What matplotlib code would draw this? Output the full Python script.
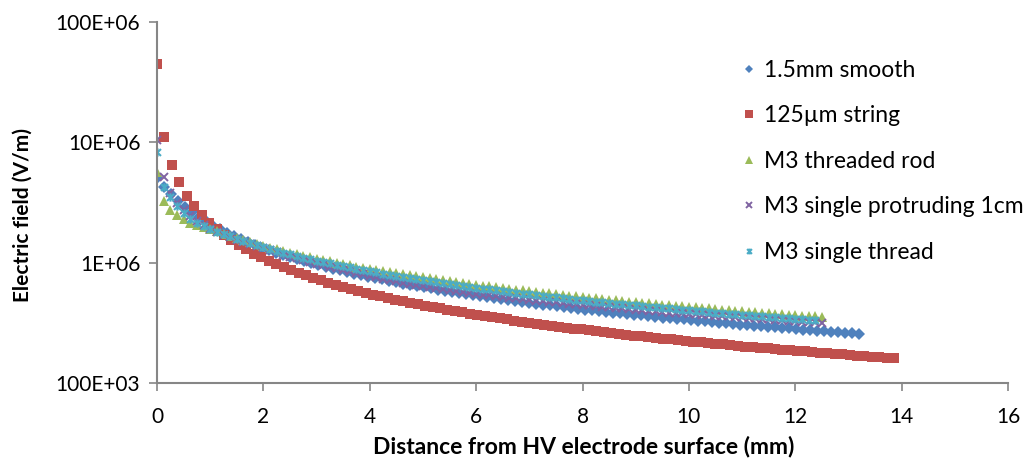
import numpy as np
import matplotlib
matplotlib.use("Agg")
import matplotlib.pyplot as plt
from matplotlib.path import Path

plt.rcParams['font.family'] = ['Lato', 'DejaVu Sans']

# sampling step along the distance axis (mm) for each series
BLUE_STEP = 0.132
RED_STEP = 0.14
GREEN_STEP = 0.125
PURPLE_STEP = 0.125
CYAN_STEP = 0.125

# electric field in MV/m
blue_mv = [5.10, 4.29, 3.70, 3.26, 2.91, 2.63, 2.39, 2.20, 2.03, 1.89,
           1.77, 1.66, 1.56, 1.48, 1.40, 1.33, 1.27, 1.21, 1.16, 1.11,
           1.07, 1.03, 0.991, 0.956, 0.923, 0.893, 0.864, 0.837, 0.812, 0.788,
           0.766, 0.745, 0.725, 0.706, 0.688, 0.671, 0.655, 0.639, 0.625, 0.610,
           0.597, 0.584, 0.572, 0.560, 0.549, 0.538, 0.527, 0.517, 0.507, 0.498,
           0.489, 0.480, 0.472, 0.464, 0.456, 0.449, 0.441, 0.434, 0.427, 0.421,
           0.414, 0.408, 0.402, 0.396, 0.390, 0.385, 0.379, 0.374, 0.369, 0.364,
           0.359, 0.354, 0.350, 0.345, 0.341, 0.337, 0.333, 0.329, 0.325, 0.321,
           0.317, 0.313, 0.310, 0.306, 0.303, 0.300, 0.296, 0.293, 0.290, 0.287,
           0.284, 0.281, 0.278, 0.275, 0.272, 0.270, 0.267, 0.264, 0.262, 0.259,
           0.257]

red_mv = [44.7, 11.1, 6.54, 4.64, 3.60, 2.94, 2.48, 2.15, 1.89, 1.69,
          1.53, 1.40, 1.29, 1.19, 1.11, 1.04, 0.973, 0.917, 0.867, 0.823,
          0.783, 0.746, 0.713, 0.682, 0.654, 0.629, 0.605, 0.583, 0.562, 0.543,
          0.526, 0.509, 0.493, 0.478, 0.464, 0.451, 0.439, 0.427, 0.416, 0.406,
          0.396, 0.386, 0.377, 0.368, 0.360, 0.352, 0.344, 0.337, 0.330, 0.324,
          0.317, 0.311, 0.305, 0.299, 0.294, 0.289, 0.283, 0.279, 0.274, 0.269,
          0.265, 0.260, 0.256, 0.252, 0.248, 0.244, 0.241, 0.237, 0.234, 0.230,
          0.227, 0.224, 0.221, 0.218, 0.215, 0.212, 0.209, 0.207, 0.204, 0.201,
          0.199, 0.196, 0.194, 0.192, 0.189, 0.187, 0.185, 0.183, 0.181, 0.179,
          0.177, 0.175, 0.173, 0.171, 0.169, 0.168, 0.166, 0.164, 0.162, 0.161]

green_mv = [5.62, 3.24, 2.75, 2.51, 2.29, 2.14, 2.04, 1.97, 1.905, 1.818,
            1.739, 1.666, 1.599, 1.538, 1.481, 1.428, 1.378, 1.332, 1.289, 1.249,
            1.211, 1.175, 1.142, 1.110, 1.080, 1.052, 1.025, 0.999, 0.975, 0.951,
            0.929, 0.908, 0.888, 0.869, 0.850, 0.832, 0.815, 0.799, 0.783, 0.768,
            0.754, 0.740, 0.726, 0.713, 0.701, 0.689, 0.677, 0.666, 0.655, 0.644,
            0.634, 0.624, 0.615, 0.605, 0.596, 0.587, 0.579, 0.571, 0.563, 0.555,
            0.547, 0.540, 0.533, 0.526, 0.519, 0.512, 0.506, 0.499, 0.493, 0.487,
            0.481, 0.475, 0.470, 0.464, 0.459, 0.454, 0.449, 0.444, 0.439, 0.434,
            0.429, 0.425, 0.420, 0.416, 0.412, 0.408, 0.403, 0.399, 0.395, 0.392,
            0.388, 0.384, 0.380, 0.377, 0.373, 0.370, 0.366, 0.363, 0.360, 0.357,
            0.353]

purple_mv = [10.5, 5.13, 3.80, 3.16, 2.75, 2.45, 2.24, 2.04, 1.91, 1.80,
             1.70, 1.62, 1.55, 1.488, 1.429, 1.373, 1.318, 1.266, 1.216, 1.168,
             1.122, 1.084, 1.047, 1.012, 0.977, 0.950, 0.923, 0.897, 0.871, 0.846,
             0.822, 0.799, 0.776, 0.757, 0.737, 0.718, 0.700, 0.684, 0.668, 0.653,
             0.638, 0.625, 0.613, 0.601, 0.589, 0.579, 0.569, 0.559, 0.550, 0.542,
             0.534, 0.526, 0.519, 0.512, 0.504, 0.497, 0.490, 0.484, 0.479, 0.473,
             0.468, 0.462, 0.457, 0.452, 0.447, 0.442, 0.437, 0.432, 0.427, 0.422,
             0.417, 0.412, 0.407, 0.403, 0.398, 0.394, 0.389, 0.385, 0.382, 0.379,
             0.376, 0.372, 0.369, 0.366, 0.363, 0.360, 0.357, 0.354, 0.351, 0.348,
             0.345, 0.342, 0.339, 0.336, 0.333, 0.330, 0.327, 0.324, 0.322, 0.319,
             0.316]

cyan_mv = [8.34, 4.27, 3.52, 2.95, 2.57, 2.32, 2.13, 2.01, 1.90, 1.81,
           1.73, 1.65, 1.58, 1.51, 1.45, 1.40, 1.35, 1.30, 1.25, 1.21,
           1.17, 1.14, 1.10, 1.07, 1.04, 1.01, 0.985, 0.959, 0.935, 0.912,
           0.890, 0.869, 0.848, 0.829, 0.811, 0.793, 0.777, 0.761, 0.745, 0.730,
           0.716, 0.702, 0.689, 0.677, 0.664, 0.652, 0.641, 0.630, 0.619, 0.609,
           0.599, 0.590, 0.580, 0.571, 0.563, 0.554, 0.546, 0.538, 0.530, 0.522,
           0.515, 0.508, 0.501, 0.494, 0.488, 0.481, 0.475, 0.469, 0.463, 0.457,
           0.452, 0.446, 0.441, 0.436, 0.431, 0.426, 0.421, 0.416, 0.411, 0.407,
           0.402, 0.398, 0.394, 0.389, 0.385, 0.381, 0.377, 0.374, 0.370, 0.366,
           0.363, 0.359, 0.356, 0.352, 0.349, 0.346, 0.342, 0.339, 0.336, 0.333]

labels = ["1.5mm smooth", "125\u00b5m string", "M3 threaded rod",
          "M3 single protruding 1cm", "M3 single thread"]

y_ticks = [1e5, 1e6, 1e7, 1e8]
y_tick_labels = ["100E+03", "1E+06", "10E+06", "100E+06"]
x_ticks = [0, 2, 4, 6, 8, 10, 12, 14, 16]

# Excel style "star" marker: an x with a vertical bar
star = Path([(-1, -1), (1, 1), (-1, 1), (1, -1), (0, -1.2), (0, 1.2)],
            [Path.MOVETO, Path.LINETO, Path.MOVETO, Path.LINETO, Path.MOVETO, Path.LINETO])

series = [
    (blue_mv, BLUE_STEP, dict(marker="D", color="#4F81BD", ms=6.0, mew=0)),
    (red_mv, RED_STEP, dict(marker="s", color="#C0504D", ms=7.5, mew=0)),
    (green_mv, GREEN_STEP, dict(marker="^", color="#9BBB59", ms=7.3, mew=0)),
    (purple_mv, PURPLE_STEP, dict(marker="x", color="#8064A2", ms=6.0, mew=1.4)),
    (cyan_mv, CYAN_STEP, dict(marker=star, color="#4BACC6", ms=6.0, mew=1.5, mfc="none")),
]

fig = plt.figure(figsize=(10.29, 4.67), dpi=100)
ax = fig.add_axes([0.1526, 0.1799, 0.8270, 0.7730])

for (vals, step, style), label in zip(series, labels):
    e = np.array(vals) * 1e6
    x = np.arange(len(e)) * step
    ax.plot(x, e, linestyle="none", label=label, **style)

ax.set_yscale("log")
ax.set_ylim(1e5, 1e8)
ax.set_xlim(0, 16)
ax.set_yticks(y_ticks)
ax.set_yticklabels(y_tick_labels)
ax.minorticks_off()
ax.set_xticks(x_ticks)

for side in ["top", "right"]:
    ax.spines[side].set_visible(False)
for side in ["left", "bottom"]:
    ax.spines[side].set_color("#868686")
    ax.spines[side].set_linewidth(1.5)
ax.tick_params(axis="both", direction="out", length=6, width=1.2, color="#868686",
               labelsize=15, labelcolor="black")
ax.tick_params(axis="x", pad=11)
ax.tick_params(axis="y", pad=6)

ax.set_xlabel("Distance from HV electrode surface (mm)", fontsize=16.5, fontweight="bold")
ax.xaxis.set_label_coords(0.501, -0.145)
ax.set_ylabel("Electric field (V/m)", fontsize=15, fontweight="bold")
ax.yaxis.set_label_coords(-0.146, 0.465)

leg = ax.legend(loc="upper left", bbox_to_anchor=(0.72, 0.872), bbox_transform=fig.transFigure,
                frameon=False, fontsize=16.5, handlelength=0.7, handletextpad=0.3,
                labelspacing=1.07, borderpad=0, borderaxespad=0, markerscale=0.7)

fig.savefig("out.png", dpi=100)
